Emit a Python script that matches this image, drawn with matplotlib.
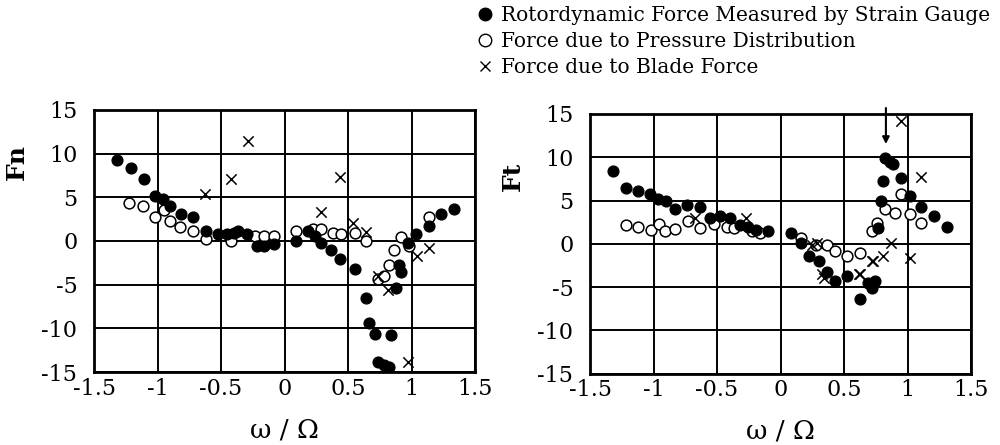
import numpy as np
import matplotlib
matplotlib.use('Agg')
import matplotlib.pyplot as plt
from matplotlib.lines import Line2D

plt.rcParams['font.family'] = ['DejaVu Serif']

# --- Fn panel (left) ---
fn_strain_x = [-1.315, -1.206, -1.109, -1.018, -0.958, -0.898, -0.815, -0.724, -0.615, -0.523,
               -0.45, -0.40, -0.367, -0.294, -0.216, -0.164, -0.086,
               0.089, 0.1875, 0.24, 0.29, 0.37, 0.435, 0.552, 0.638, 0.669, 0.716, 0.839,
               0.734, 0.786, 0.825, 0.878, 0.904, 0.917, 0.969, 1.034, 1.138, 1.229, 1.333]
fn_strain_y = [9.3, 8.4, 7.1, 5.2, 4.8, 4.0, 3.1, 2.7, 1.15, 0.77,
               0.77, 0.9, 1.15, 0.77, -0.6, -0.6, -0.4,
               0.0, 1.15, 0.6, -0.2, -1.0, -2.1, -3.2, -6.5, -9.4, -10.6, -10.8,
               -13.8, -14.2, -14.4, -5.4, -2.7, -3.5, -0.2, 0.77, 1.7, 3.1, 3.65]
fn_press_x = [-1.224, -1.115, -1.018, -0.945, -0.898, -0.82, -0.724, -0.615, -0.424, -0.229,
              -0.164, -0.086, 0.091, 0.227, 0.29, 0.383, 0.448, 0.552, 0.643, 0.734,
              0.786, 0.82, 0.865, 0.917, 0.982, 1.138]
fn_press_y = [4.4, 4.0, 2.7, 3.5, 2.3, 1.6, 1.15, 0.2, 0.0, 0.6,
              0.6, 0.6, 1.15, 1.35, 1.35, 0.96, 0.77, 0.96, 0.0, -4.4,
              -4.0, -2.7, -1.0, 0.4, -0.6, 2.7]
fn_blade_x = [-0.628, -0.424, -0.289, 0.29, 0.435, 0.539, 0.643, 0.734, 0.8125, 0.969, 1.047, 1.138]
fn_blade_y = [5.4, 7.1, 11.4, 3.3, 7.3, 2.1, 1.0, -4.0, -5.6, -13.8, -1.7, -0.8]

# --- Ft panel (right) ---
ft_strain_x = [-1.321, -1.22, -1.122, -1.031, -0.966, -0.902, -0.832, -0.733, -0.637, -0.552,
               -0.474, -0.396, -0.319, -0.254, -0.189, -0.098, 0.083, 0.16, 0.225, 0.303,
               0.368, 0.433, 0.523, 0.627, 0.692, 0.718, 0.744, 0.764, 0.795, 0.808,
               0.821, 0.86, 0.886, 0.951, 1.016, 1.106, 1.205, 1.313]
ft_strain_y = [8.4, 6.5, 6.1, 5.7, 5.2, 4.9, 4.0, 4.5, 4.3, 3.0,
               3.2, 3.0, 2.2, 2.0, 1.65, 1.5, 1.3, 0.1, -1.4, -2.0,
               -3.3, -4.3, -3.7, -6.4, -4.5, -5.1, -4.3, 1.8, 4.9, 7.2,
               9.9, 9.5, 9.2, 7.6, 5.5, 4.3, 3.2, 1.9]
ft_press_x = [-1.22, -1.122, -1.018, -0.953, -0.909, -0.832, -0.725, -0.635, -0.526, -0.422,
              -0.37, -0.228, -0.163, 0.16, 0.277, 0.368, 0.433, 0.523, 0.627, 0.718,
              0.756, 0.821, 0.899, 0.951, 1.016, 1.106]
ft_press_y = [2.2, 1.9, 1.65, 2.3, 1.5, 1.7, 2.6, 1.8, 2.3, 1.9,
              1.8, 1.5, 1.3, 0.7, -0.1, -0.1, -0.85, -1.4, -1.0, 1.5,
              2.4, 4.0, 3.6, 5.7, 3.4, 2.4]
ft_blade_x = [-0.67, -0.27, 0.251, 0.29, 0.33, 0.342, 0.62, 0.627, 0.718, 0.73, 0.808, 0.873, 0.951, 1.021, 1.106]
ft_blade_y = [3.0, 3.0, -0.1, 0.1, -3.5, -3.9, -3.5, -3.5, -2.0, -2.0, -1.4, 0.1, 14.2, -1.6, 7.7]

x_ticks = [-1.5, -1, -0.5, 0, 0.5, 1, 1.5]
x_ticklabels = ['-1.5', '-1', '-0.5', '0', '0.5', '1', '1.5']
y_ticks = [15, 10, 5, 0, -5, -10, -15]
y_ticklabels = ['15', '10', '5', '0', '-5', '-10', '-15']

fig = plt.figure(figsize=(10, 4.45), dpi=100)
ax1 = fig.add_axes([0.094, 0.164, 0.381, 0.589])
ax2 = fig.add_axes([0.590, 0.160, 0.381, 0.584])

def draw_panel(ax, sx, sy, px, py, bx, by, ylab, ylab_xy, xlab_y):
    ax.scatter(px, py, s=60, facecolor='white', edgecolor='black', linewidth=1.1, zorder=3)
    ax.scatter(sx, sy, s=60, color='black', zorder=4)
    ax.scatter(bx, by, s=55, marker='x', color='black', linewidth=1.1, zorder=5)
    ax.set_xlim(-1.5, 1.5)
    ax.set_ylim(-15, 15)
    ax.set_xticks(x_ticks)
    ax.set_xticklabels(x_ticklabels)
    ax.set_yticks(y_ticks)
    ax.set_yticklabels(y_ticklabels)
    ax.tick_params(length=0, labelsize=16)
    ax.tick_params(axis='x', pad=4)
    ax.tick_params(axis='y', pad=12)
    ax.grid(True, color='black', linewidth=1.4)
    ax.set_axisbelow(True)
    for sp in ax.spines.values():
        sp.set_linewidth(2)
    ax.set_ylabel(ylab, fontsize=18, fontweight='bold')
    ax.yaxis.set_label_coords(*ylab_xy)
    ax.set_xlabel('ω / Ω', fontsize=19)
    ax.xaxis.set_label_coords(0.5, xlab_y)

draw_panel(ax1, fn_strain_x, fn_strain_y, fn_press_x, fn_press_y, fn_blade_x, fn_blade_y,
           'Fn', (-0.172, 0.80), -0.172)
draw_panel(ax2, ft_strain_x, ft_strain_y, ft_press_x, ft_press_y, ft_blade_x, ft_blade_y,
           'Ft', (-0.17, 0.76), -0.172)

# arrow pointing at the peak
ax2.annotate('', xy=(0.83, 11.2), xytext=(0.83, 16.0),
             arrowprops=dict(arrowstyle='-|>', color='black', lw=1.5), annotation_clip=False)

handles = [Line2D([], [], marker='o', linestyle='none', color='black', markersize=9),
           Line2D([], [], marker='o', linestyle='none', markerfacecolor='white',
                  markeredgecolor='black', markersize=9),
           Line2D([], [], marker='x', linestyle='none', color='black', markersize=7)]
labels = ['Rotordynamic Force Measured by Strain Gauge',
          'Force due to Pressure Distribution',
          'Force due to Blade Force']
fig.legend(handles, labels, loc='upper left', bbox_to_anchor=(0.461, 1.028), frameon=False,
           fontsize=14.5, handlelength=0.6, handletextpad=0.5, labelspacing=0.35)

fig.savefig('out.png', dpi=100)
